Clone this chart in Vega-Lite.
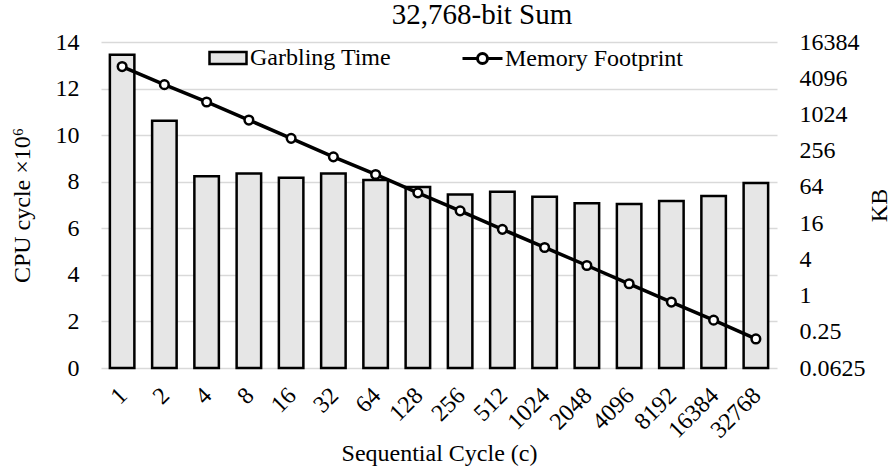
{
  "$schema": "https://vega.github.io/schema/vega-lite/v6.json",
  "width": 676,
  "height": 326,
  "autosize": {"type": "none"},
  "padding": {"left": 101, "top": 42, "right": 114, "bottom": 105},
  "title": {"text": "32,768-bit Sum", "font": "Liberation Serif", "fontSize": 29, "fontWeight": "normal", "color": "black", "anchor": "middle", "dx": 43, "dy": 2, "offset": 2},
  "data": {"values": [
    {"c": 1, "time": 13.45, "mem": 6400},
    {"c": 2, "time": 10.62, "mem": 3200},
    {"c": 4, "time": 8.24, "mem": 1650},
    {"c": 8, "time": 8.35, "mem": 826},
    {"c": 16, "time": 8.17, "mem": 410},
    {"c": 32, "time": 8.35, "mem": 202},
    {"c": 64, "time": 8.07, "mem": 103},
    {"c": 128, "time": 7.77, "mem": 51},
    {"c": 256, "time": 7.45, "mem": 25.6},
    {"c": 512, "time": 7.57, "mem": 12.6},
    {"c": 1024, "time": 7.35, "mem": 6.3},
    {"c": 2048, "time": 7.07, "mem": 3.16},
    {"c": 4096, "time": 7.04, "mem": 1.57},
    {"c": 8192, "time": 7.17, "mem": 0.78},
    {"c": 16384, "time": 7.39, "mem": 0.39},
    {"c": 32768, "time": 7.95, "mem": 0.19}
  ]},
  "encoding": {
    "x": {"field": "c", "type": "ordinal", "scale": {"paddingInner": 0.42, "paddingOuter": 0.21},
      "axis": {"title": "Sequential Cycle (c)", "labelAngle": -45, "labelPadding": 15, "labelOffset": -7, "titleX": 338, "titleY": 92, "titleBaseline": "alphabetic", "titleAlign": "center", "domain": false, "ticks": false}}
  },
  "layer": [
    {
      "mark": {"type": "bar", "stroke": "black", "strokeWidth": 2.5},
      "encoding": {
        "y": {"field": "time", "type": "quantitative", "scale": {"domain": [0, 14], "nice": false},
          "axis": {"orient": "left", "values": [0, 2, 4, 6, 8, 10, 12, 14], "title": "CPU cycle ×10⁶", "grid": true, "gridColor": "#d9d9d9", "gridWidth": 1.3, "labelPadding": 22, "titleX": -79, "titleY": 163, "titleAngle": 270, "titleAlign": "center", "titleBaseline": "middle"}},
        "fill": {"datum": "Garbling Time", "type": "nominal", "scale": {"range": ["#e6e6e6"]},
          "legend": {"title": null, "orient": "none", "legendX": 107, "legendY": -4, "padding": 0,
            "symbolType": "M-1,-0.33L1,-0.33L1,0.33L-1,0.33Z", "symbolSize": 1369, "symbolStrokeColor": "black", "symbolStrokeWidth": 2.5,
            "labelFont": "Liberation Serif", "labelFontSize": 24, "labelColor": "black", "labelOffset": 2, "labelLimit": 300}}
      }
    },
    {
      "mark": {"type": "line", "strokeWidth": 3.5},
      "encoding": {
        "y": {"field": "mem", "type": "quantitative", "scale": {"type": "log", "base": 2, "domain": [0.0625, 16384], "nice": false},
          "axis": {"orient": "right", "values": [0.0625, 0.25, 1, 4, 16, 64, 256, 1024, 4096, 16384], "format": "~g", "title": "KB", "grid": false, "labelPadding": 22, "titleX": 102, "titleY": 163, "titleAngle": 270, "titleAlign": "center", "titleBaseline": "middle"}},
        "stroke": {"datum": "Memory Footprint", "type": "nominal", "scale": {"range": ["black"]},
          "legend": {"title": null, "orient": "none", "legendX": 360, "legendY": -5, "padding": 0,
            "symbolType": "M-1,0L-0.25,0M0.25,0L1,0M-0.25,0A0.25,0.25 0 1,0 0.25,0A0.25,0.25 0 1,0 -0.25,0", "symbolSize": 1600, "symbolStrokeWidth": 3, "symbolFillColor": "white",
            "labelFont": "Liberation Serif", "labelFontSize": 24, "labelColor": "black", "labelOffset": 1, "labelLimit": 300}}
      }
    },
    {
      "mark": {"type": "point", "shape": "circle", "filled": true, "fill": "white", "stroke": "black", "strokeWidth": 2.5, "size": 75, "opacity": 1},
      "encoding": {
        "y": {"field": "mem", "type": "quantitative", "scale": {"type": "log", "base": 2, "domain": [0.0625, 16384], "nice": false}, "axis": null}
      }
    }
  ],
  "resolve": {"scale": {"y": "independent", "fill": "independent", "stroke": "independent"}, "legend": {"fill": "independent", "stroke": "independent"}},
  "config": {
    "font": "Liberation Serif",
    "view": {"stroke": null},
    "title": {"font": "Liberation Serif"},
    "legend": {"labelFont": "Liberation Serif", "labelFontSize": 24},
    "axis": {"labelFont": "Liberation Serif", "labelFontSize": 24, "labelColor": "black", "titleFont": "Liberation Serif", "titleFontSize": 24, "titleFontWeight": "normal", "titleColor": "black", "domain": false, "ticks": false}
  }
}
